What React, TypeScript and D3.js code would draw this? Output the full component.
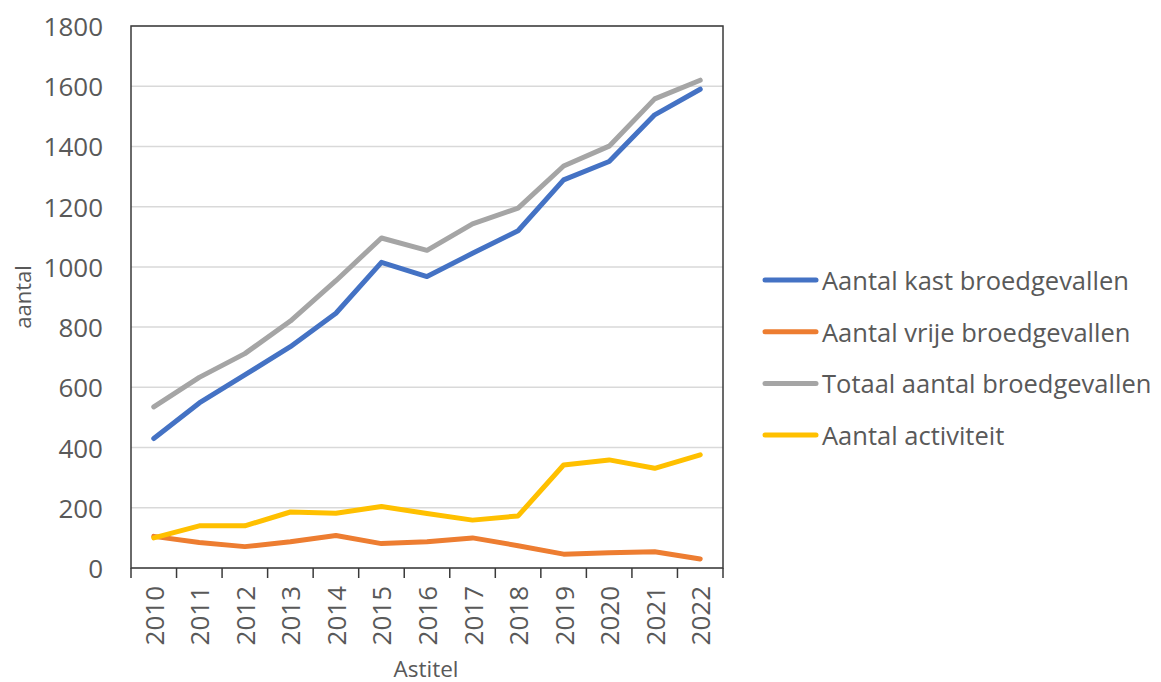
import React from "react";
import * as d3 from "d3";

const years = ["2010","2011","2012","2013","2014","2015","2016","2017","2018","2019","2020","2021","2022"];
const kast = [430, 548, 641, 735, 846, 1015, 968, 1045, 1120, 1289, 1350, 1505, 1590];
const vrije = [105, 85, 71, 87, 108, 81, 87, 100, 74, 46, 51, 54, 30];
const totaal = [535, 633, 712, 820, 954, 1096, 1055, 1143, 1195, 1335, 1401, 1558, 1620];
const activiteit = [100, 140, 140, 186, 182, 204, 181, 159, 173, 342, 359, 331, 376];
const yTicks = [0, 200, 400, 600, 800, 1000, 1200, 1400, 1600, 1800];

const seriesNames = ["Aantal kast broedgevallen", "Aantal vrije broedgevallen", "Totaal aantal broedgevallen", "Aantal activiteit"];
const seriesValues = [kast, vrije, totaal, activiteit];
const seriesColors = ["#4472C4", "#ED7D31", "#A5A5A5", "#FFC000"];

const W = 1161, H = 682;
const left = 131, right = 723, top = 26, bottom = 568;
const FONT = "'Open Sans', sans-serif";
const TXT = "#595959";

export default function App() {
  const x = d3.scaleBand<string>().domain(years).range([left, right]);
  const y = d3.scaleLinear().domain([0, 1800]).range([bottom, top]);
  const line = d3.line<number>()
    .x((_, i) => (x(years[i]) as number) + x.bandwidth() / 2)
    .y((d) => y(d));
  const bounds = [...years.map((yr) => x(yr) as number), right];

  return (
    <svg width={W} height={H} style={{ position: "absolute", left: 0, top: 0, background: "#fff" }}>
      {yTicks.map((t) => (
        <line key={"g" + t} x1={left} x2={right} y1={y(t)} y2={y(t)} stroke="#d9d9d9" strokeWidth={1.5} />
      ))}
      <rect x={left} y={top} width={right - left} height={bottom - top} fill="none" stroke="#3a3a3a" strokeWidth={1.5} />
      {bounds.map((b, i) => (
        <line key={"t" + i} x1={b} x2={b} y1={bottom} y2={bottom + 10} stroke="#3a3a3a" strokeWidth={1.5} />
      ))}
      {yTicks.map((t) => (
        <text key={"yl" + t} x={103} y={y(t)} textAnchor="end" dominantBaseline="central"
          fontFamily={FONT} fontSize={26} fill={TXT}>{t}</text>
      ))}
      {years.map((yr) => {
        const cx = (x(yr) as number) + x.bandwidth() / 2;
        return (
          <text key={"xl" + yr} transform={`translate(${cx},${586}) rotate(-90)`} textAnchor="end"
            dominantBaseline="central" fontFamily={FONT} fontSize={26} fill={TXT}>{yr}</text>
        );
      })}
      <text transform={`translate(${22},${297}) rotate(-90)`} textAnchor="middle" dominantBaseline="central"
        fontFamily={FONT} fontSize={22} fill={TXT}>aantal</text>
      <text x={426} y={668} textAnchor="middle" dominantBaseline="central"
        fontFamily={FONT} fontSize={22.5} fill={TXT}>Astitel</text>
      {seriesValues.map((vals, i) => (
        <path key={"s" + i} d={line(vals) || ""} fill="none" stroke={seriesColors[i]} strokeWidth={5}
          strokeLinejoin="round" strokeLinecap="round" />
      ))}
      {seriesNames.map((n, i) => {
        const ly = 280 + i * 51.7;
        return (
          <g key={"lg" + i}>
            <line x1={765} x2={816} y1={ly} y2={ly} stroke={seriesColors[i]} strokeWidth={5} strokeLinecap="round" />
            <text x={822} y={ly} dominantBaseline="central" fontFamily={FONT} fontSize={25.5} fill={TXT}>{n}</text>
          </g>
        );
      })}
    </svg>
  );
}
